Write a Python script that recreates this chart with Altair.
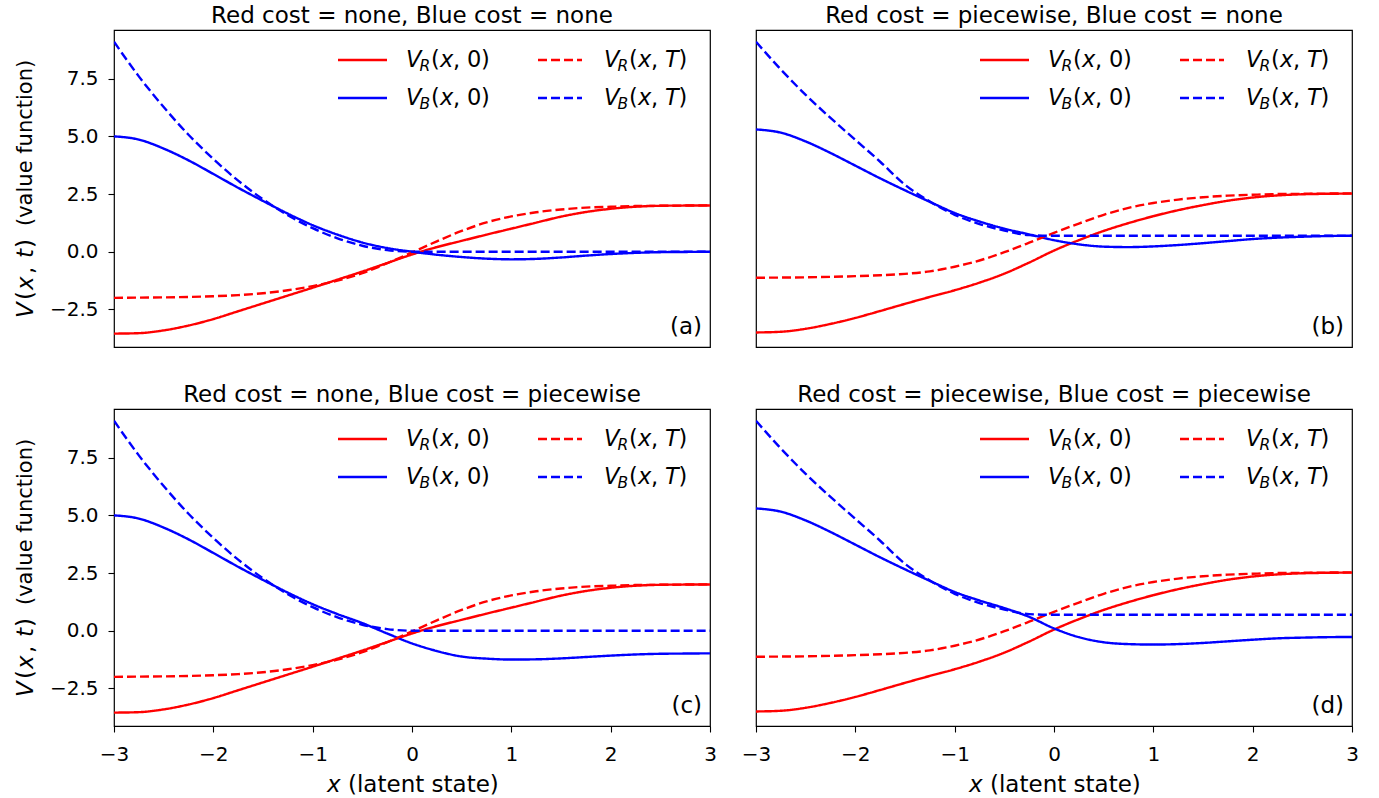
import altair as alt
import pandas as pd

# ---------------- data ----------------
X_VALUES = [-3.0, -2.75, -2.5, -2.25, -2.0, -1.75, -1.5, -1.25, -1.0, -0.75, -0.5, -0.25,
            0.0, 0.25, 0.5, 0.75, 1.0, 1.25, 1.5, 1.75, 2.0, 2.25, 2.5, 2.75, 3.0]

# Red value functions when red has no cost (panels a, c)
RED_V0_NONE = [-3.55, -3.53, -3.41, -3.20, -2.92, -2.58, -2.24, -1.90, -1.56, -1.21, -0.86, -0.49,
               -0.12, 0.20, 0.47, 0.74, 1.00, 1.26, 1.52, 1.72, 1.86, 1.95, 1.99, 2.00, 2.00]
RED_VT_NONE = [-2.00, -1.99, -1.98, -1.96, -1.93, -1.88, -1.80, -1.67, -1.49, -1.25, -0.93, -0.50,
               -0.03, 0.45, 0.90, 1.27, 1.53, 1.71, 1.83, 1.91, 1.95, 1.98, 1.99, 2.00, 2.01]
# Red value functions when red has piecewise cost (panels b, d)
RED_V0_PIECE = [-3.50, -3.47, -3.34, -3.13, -2.87, -2.57, -2.26, -1.96, -1.67, -1.34, -0.95, -0.47,
                0.05, 0.50, 0.90, 1.24, 1.54, 1.80, 2.02, 2.21, 2.35, 2.44, 2.49, 2.51, 2.52]
RED_VT_PIECE = [-1.13, -1.12, -1.11, -1.09, -1.06, -1.02, -0.96, -0.85, -0.65, -0.38, -0.02, 0.39,
                0.82, 1.22, 1.60, 1.90, 2.11, 2.26, 2.36, 2.43, 2.47, 2.50, 2.51, 2.52, 2.53]
# Blue value functions
BLUE_V0_A = [5.00, 4.86, 4.47, 3.96, 3.37, 2.77, 2.20, 1.65, 1.15, 0.74, 0.40, 0.16,
             0.00, -0.13, -0.23, -0.30, -0.33, -0.31, -0.25, -0.17, -0.10, -0.05, -0.02, -0.01, 0.00]
BLUE_VT_A = [9.10, 7.60, 6.27, 5.07, 4.02, 3.08, 2.27, 1.58, 1.02, 0.58, 0.26, 0.07,
             0.00, 0.00, 0.00, 0.00, 0.00, 0.00, 0.00, 0.00, 0.00, 0.00, 0.00, 0.00, 0.00]
BLUE_V0_B = [5.30, 5.16, 4.78, 4.28, 3.73, 3.18, 2.66, 2.16, 1.68, 1.31, 1.00, 0.75,
             0.50, 0.32, 0.22, 0.20, 0.23, 0.29, 0.37, 0.46, 0.55, 0.61, 0.65, 0.68, 0.69]
BLUE_VT_B = [9.10, 7.90, 6.80, 5.80, 4.85, 3.90, 2.90, 2.18, 1.60, 1.20, 0.92, 0.72,
             0.69, 0.69, 0.69, 0.69, 0.69, 0.69, 0.69, 0.69, 0.69, 0.69, 0.69, 0.69, 0.69]
BLUE_V0_C = [5.00, 4.86, 4.47, 3.96, 3.37, 2.77, 2.20, 1.65, 1.15, 0.72, 0.33, -0.12,
             -0.55, -0.88, -1.12, -1.21, -1.25, -1.24, -1.20, -1.14, -1.08, -1.03, -1.00, -0.99, -0.98]
BLUE_V0_D = [5.30, 5.16, 4.78, 4.28, 3.73, 3.18, 2.66, 2.16, 1.68, 1.31, 0.98, 0.60,
             0.10, -0.28, -0.50, -0.58, -0.60, -0.58, -0.53, -0.46, -0.39, -0.33, -0.30, -0.28, -0.27]

PANEL_TITLES = ["Red cost = none, Blue cost = none",
                "Red cost = piecewise, Blue cost = none",
                "Red cost = none, Blue cost = piecewise",
                "Red cost = piecewise, Blue cost = piecewise"]
PANEL_TAGS = ["(a)", "(b)", "(c)", "(d)"]
SERIES = ["VR0", "VB0", "VRT", "VBT"]
X_TICKS = [-3, -2, -1, 0, 1, 2, 3]
Y_TICKS = [-2.5, 0.0, 2.5, 5.0, 7.5]
X_DOMAIN = [-3, 3]
Y_DOMAIN = [-4.13, 9.61]

RED = "#ff0000"
BLUE = "#0000ff"
FONT = "DejaVu Sans"
W, H = 596, 317
LW = 2.4
DASH = [9, 4]

ONE = pd.DataFrame({"k": [0]})


def txt(text, x, y, size=22, italic=False, angle=None, align="left", color="black"):
    kw = dict(text=text, font=FONT, fontSize=size, align=align, baseline="middle",
              color=color, fontStyle="italic" if italic else "normal")
    if angle is not None:
        kw["angle"] = angle
    return alt.Chart(ONE).mark_text(**kw).encode(x=alt.value(x), y=alt.value(y))


def legend_layers():
    out = []
    rows = [(30, RED, "R"), (68, BLUE, "B")]
    for y, col, sub in rows:
        out.append(alt.Chart(ONE).mark_rule(color=col, strokeWidth=LW).encode(
            x=alt.value(224), x2=alt.value(273), y=alt.value(y)))
        out.append(alt.Chart(ONE).mark_rule(color=col, strokeWidth=LW, strokeDash=DASH).encode(
            x=alt.value(424), x2=alt.value(468), y=alt.value(y)))
        for x0, arg in [(292, "0"), (490, "T")]:
            out.append(txt("V", x0, y, 22.5, True))
            out.append(txt(sub, x0 + 13.5, y + 6, 15.5, True))
            out.append(txt("(", x0 + 25, y, 22.5))
            out.append(txt("x", x0 + 34, y, 22.5, True))
            out.append(txt(",", x0 + 47, y, 22.5))
            out.append(txt(arg, x0 + 61, y, 22.5, arg == "T"))
            out.append(txt(")", x0 + (75 if arg == "0" else 74.5), y, 22.5))
    return out


def panel(i, r0, rt, b0, bt, show_x, show_y):
    rows = []
    for name, vals in zip(SERIES, [r0, b0, rt, bt]):
        for xv, v in zip(X_VALUES, vals):
            rows.append({"x": xv, "v": v, "s": name})
    df = pd.DataFrame(rows)

    xaxis = alt.Axis(values=X_TICKS, format="d", title=None, labelFlush=False,
                     labelPadding=12) if show_x else None
    yaxis = alt.Axis(values=Y_TICKS, format=".1f", title=None) if show_y else None

    lines = alt.Chart(df).mark_line(strokeWidth=LW, interpolate="monotone", clip=True).encode(
        x=alt.X("x:Q", scale=alt.Scale(domain=X_DOMAIN, nice=False, zero=False), axis=xaxis),
        y=alt.Y("v:Q", scale=alt.Scale(domain=Y_DOMAIN, nice=False, zero=False), axis=yaxis),
        color=alt.Color("s:N", scale=alt.Scale(domain=SERIES, range=[RED, BLUE, RED, BLUE]), legend=None),
        strokeDash=alt.StrokeDash("s:N", scale=alt.Scale(domain=SERIES, range=[[1, 0], [1, 0], DASH, DASH]),
                                  legend=None),
        detail="s:N",
    )
    layers = [lines] + legend_layers()
    layers.append(txt(PANEL_TAGS[i], 588, 297, 23, align="right"))
    if show_y:
        xt = -88
        y0 = 288
        for t, off, it in [("V", 0, True), ("(", 18, False), ("x", 28, True), (",", 44, False),
                           ("t", 60, True), (")", 70, False)]:
            layers.append(txt(t, xt, y0 - off, 23, it, angle=270))
        layers.append(txt("(value function)", xt, 196, 21, False, angle=270))
    if show_x:
        layers.append(txt("x", 213, 376, 23, True))
        layers.append(txt("(latent state)", 234, 376, 23))
    return alt.layer(*layers).properties(
        width=W, height=H,
        title=alt.TitleParams(PANEL_TITLES[i], font=FONT, fontSize=23, fontWeight="normal",
                              color="black", anchor="middle", offset=2),
    )


pa = panel(0, RED_V0_NONE, RED_VT_NONE, BLUE_V0_A, BLUE_VT_A, False, True)
pb = panel(1, RED_V0_PIECE, RED_VT_PIECE, BLUE_V0_B, BLUE_VT_B, False, False)
pc = panel(2, RED_V0_NONE, RED_VT_NONE, BLUE_V0_C, BLUE_VT_A, True, True)
pd_ = panel(3, RED_V0_PIECE, RED_VT_PIECE, BLUE_V0_D, BLUE_VT_B, True, False)

chart = alt.vconcat(
    alt.hconcat(pa, pb, spacing=44),
    alt.hconcat(pc, pd_, spacing=23),
    spacing=35,
).properties(
    background="white",
    padding={"left": 14, "top": 4, "right": 5, "bottom": 5},
).configure_view(
    stroke="black", strokeWidth=1.2
).configure_axis(
    grid=False, domain=False, tickColor="black", tickSize=6, tickWidth=1.1,
    labelFont=FONT, labelFontSize=20, labelColor="black", labelPadding=10,
)

chart.save("out.html", embed_options={"renderer": "svg", "actions": False})
